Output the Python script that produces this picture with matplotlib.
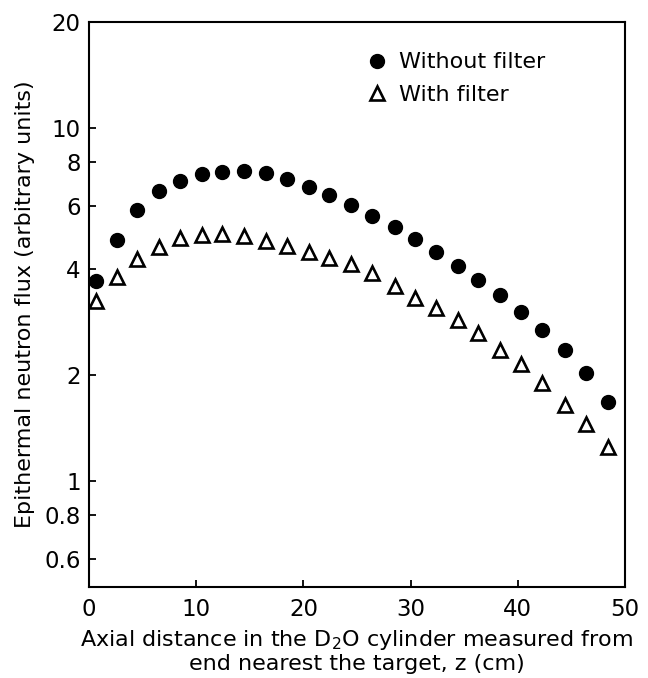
import matplotlib
matplotlib.use("Agg")
import matplotlib.pyplot as plt
from matplotlib.ticker import FixedLocator, FixedFormatter, NullLocator

# Axial distance z (cm)
z = [0.7, 2.6, 4.5, 6.5, 8.5, 10.5, 12.4, 14.5, 16.5, 18.5, 20.5, 22.4, 24.4,
     26.4, 28.5, 30.4, 32.4, 34.4, 36.3, 38.3, 40.3, 42.3, 44.4, 46.4, 48.4]

# Epithermal neutron flux without the filter (filled circles)
without_filter = [3.69, 4.82, 5.86, 6.64, 7.10, 7.40, 7.52, 7.56, 7.45, 7.16,
                  6.80, 6.45, 6.06, 5.65, 5.26, 4.85, 4.45, 4.06, 3.72, 3.37,
                  3.01, 2.67, 2.35, 2.02, 1.67]

# Epithermal neutron flux with the filter (open triangles)
with_filter = [3.24, 3.79, 4.26, 4.61, 4.89, 4.98, 5.00, 4.96, 4.80, 4.64,
               4.46, 4.28, 4.11, 3.89, 3.58, 3.30, 3.09, 2.86, 2.62, 2.35,
               2.14, 1.89, 1.64, 1.45, 1.25]

x_ticks = [0, 10, 20, 30, 40, 50]
y_ticks = [0.6, 0.8, 1, 2, 4, 6, 8, 10, 20]
y_tick_labels = ["0.6", "0.8", "1", "2", "4", "6", "8", "10", "20"]

fig = plt.figure(figsize=(6.48, 6.78), dpi=100)
ax = fig.add_axes([0.1373, 0.1342, 0.8272, 0.8333])

ax.plot(z, without_filter, "o", color="black", markersize=10,
        label="Without filter")
ax.plot(z, with_filter, "^", markerfacecolor="white", markeredgecolor="black",
        markeredgewidth=1.9, markersize=9.5, label="With filter")

ax.set_yscale("log")
ax.set_xlim(0, 50)
ax.set_ylim(0.5, 20)

ax.xaxis.set_major_locator(FixedLocator(x_ticks))
ax.yaxis.set_major_locator(FixedLocator(y_ticks))
ax.yaxis.set_major_formatter(FixedFormatter(y_tick_labels))
ax.yaxis.set_minor_locator(NullLocator())

for side in ["left", "right", "top", "bottom"]:
    ax.spines[side].set_linewidth(1.5)

ax.tick_params(axis="both", which="major", direction="in", length=5,
               width=1.3, labelsize=16.5, pad=6)
ax.tick_params(axis="x", pad=8)

ax.set_xlabel("Axial distance in the D$_2$O cylinder measured from\n"
              "end nearest the target, z (cm)", fontsize=16, labelpad=5,
              linespacing=1.15)
ax.set_ylabel("Epithermal neutron flux (arbitrary units)", fontsize=16)
ax.yaxis.set_label_coords(-0.1, 0.5)

ax.legend(loc="upper left", bbox_to_anchor=(0.5, 0.962), frameon=False,
          fontsize=16, handletextpad=0.5, labelspacing=0.55,
          borderaxespad=0, handlelength=1.0)

plt.savefig("out.png", dpi=100)
